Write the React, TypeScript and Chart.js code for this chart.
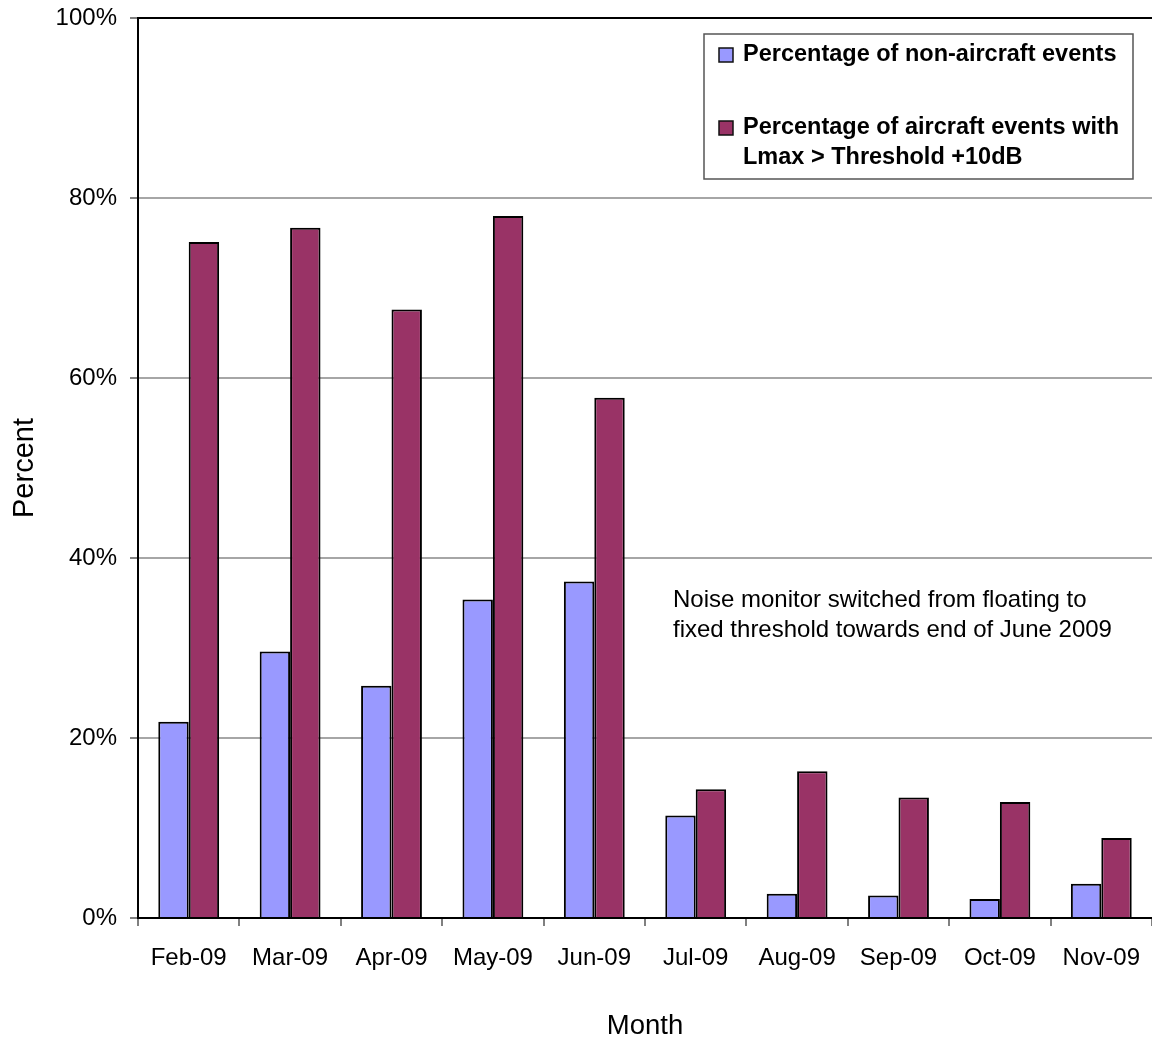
import React, { useEffect, useRef } from "react";
import { Chart, registerables } from "chart.js";

Chart.register(...registerables);

const months = ["Feb-09", "Mar-09", "Apr-09", "May-09", "Jun-09", "Jul-09", "Aug-09", "Sep-09", "Oct-09", "Nov-09"];
const nonAircraftPct = [21.8, 29.6, 25.8, 35.4, 37.4, 11.4, 2.7, 2.5, 2.1, 3.8];
const aircraftAboveThresholdPct = [75.1, 76.7, 67.6, 78.0, 57.8, 14.3, 16.3, 13.4, 12.9, 8.9];
const seriesLabels = [
  "Percentage of non-aircraft events",
  "Percentage of aircraft events with\nLmax > Threshold +10dB",
];
const noteLines = [
  "Noise monitor switched from floating to",
  "fixed threshold towards end of June 2009",
];
const yTicks = [0, 20, 40, 60, 80, 100];

const FONT = '"Liberation Sans", Arial, Helvetica, sans-serif';

// Boxed legend drawn inside the plot, upper right
const boxedLegend = {
  id: "boxedLegend",
  afterDraw(chart: any) {
    const { ctx, chartArea } = chart;
    const right = chartArea.right - 19;
    const top = chartArea.top + 16;
    const w = 429;
    const h = 145;
    const left = right - w;
    ctx.save();
    ctx.fillStyle = "#ffffff";
    ctx.fillRect(left, top, w, h);
    ctx.strokeStyle = "#555555";
    ctx.lineWidth = 1.5;
    ctx.strokeRect(left, top, w, h);
    ctx.font = `bold 23.5px ${FONT}`;
    ctx.textBaseline = "middle";
    ctx.textAlign = "left";
    const itemCenters = [top + 21, top + 94];
    chart.data.datasets.forEach((ds: any, i: number) => {
      const cy = itemCenters[i];
      ctx.fillStyle = ds.backgroundColor;
      ctx.fillRect(left + 15, cy - 7, 14, 14);
      ctx.strokeStyle = "#111111";
      ctx.lineWidth = 1.5;
      ctx.strokeRect(left + 15, cy - 7, 14, 14);
      ctx.fillStyle = "#000000";
      String(ds.label).split("\n").forEach((line: string, j: number) => {
        ctx.fillText(line, left + 39, cy + j * 30);
      });
    });
    ctx.restore();
  },
};

// Note about the threshold change
const thresholdNote = {
  id: "thresholdNote",
  afterDraw(chart: any) {
    const { ctx, chartArea } = chart;
    ctx.save();
    ctx.font = `24px ${FONT}`;
    ctx.fillStyle = "#000000";
    ctx.textBaseline = "middle";
    ctx.textAlign = "left";
    noteLines.forEach((line, i) => {
      ctx.fillText(line, chartArea.left + 535, chartArea.top + 582 + i * 30);
    });
    ctx.restore();
  },
};

export default function App() {
  const canvasRef = useRef<HTMLCanvasElement | null>(null);

  useEffect(() => {
    document.body.style.margin = "0";
    const canvas = canvasRef.current;
    if (!canvas) return;
    Chart.defaults.font.family = FONT;
    Chart.defaults.color = "#000000";

    const chart = new Chart(canvas, {
      type: "bar",
      data: {
        labels: months,
        datasets: [
          {
            label: seriesLabels[0],
            data: nonAircraftPct,
            backgroundColor: "#9999FF",
            borderColor: "#000000",
            borderWidth: 2,
            categoryPercentage: 0.6,
            barPercentage: 1,
          },
          {
            label: seriesLabels[1],
            data: aircraftAboveThresholdPct,
            backgroundColor: "#993366",
            borderColor: "#000000",
            borderWidth: 2,
            categoryPercentage: 0.6,
            barPercentage: 1,
          },
        ],
      },
      options: {
        responsive: false,
        animation: false,
        devicePixelRatio: 1,
        layout: { padding: { top: 18, left: 0, right: 0, bottom: 0 } },
        plugins: {
          legend: { display: false },
          tooltip: { enabled: false },
        },
        scales: {
          x: {
            offset: true,
            grid: {
              offset: true,
              drawOnChartArea: false,
              drawTicks: true,
              tickLength: 8,
              color: "#808080",
              lineWidth: 2,
            },
            border: { display: true, color: "#000000", width: 2 },
            ticks: {
              font: { size: 24 },
              color: "#000000",
              padding: 18,
              maxRotation: 0,
              autoSkip: false,
            },
            title: {
              display: true,
              text: "Month",
              font: { size: 27.5 },
              color: "#000000",
              padding: { top: 0, bottom: 1 },
            },
            afterFit(scale: any) {
              scale.height = 126;
              scale.paddingLeft = 0;
              scale.paddingRight = 0;
            },
          },
          y: {
            min: 0,
            max: 100,
            afterBuildTicks(scale: any) {
              scale.ticks = yTicks.map((v) => ({ value: v }));
            },
            grid: {
              color: (c: any) => (c.tick && c.tick.value === 100 ? "#000000" : "#a6a6a6"),
              lineWidth: 2,
              tickLength: 8,
              tickColor: "#808080",
            },
            border: { display: true, color: "#000000", width: 2 },
            ticks: {
              font: { size: 24 },
              color: "#000000",
              padding: 13,
              callback: (v: any) => `${v}%`,
            },
            title: {
              display: true,
              text: "Percent",
              font: { size: 29 },
              color: "#000000",
              padding: { top: 8, bottom: 0 },
            },
            afterFit(scale: any) {
              scale.width = 138;
              scale.paddingTop = 0;
              scale.paddingBottom = 0;
            },
          },
        },
      },
      plugins: [boxedLegend, thresholdNote],
    });

    return () => chart.destroy();
  }, []);

  return (
    <div style={{ width: 1152, height: 1044, background: "#ffffff" }}>
      <canvas ref={canvasRef} width={1152} height={1044} style={{ display: "block" }} />
    </div>
  );
}
